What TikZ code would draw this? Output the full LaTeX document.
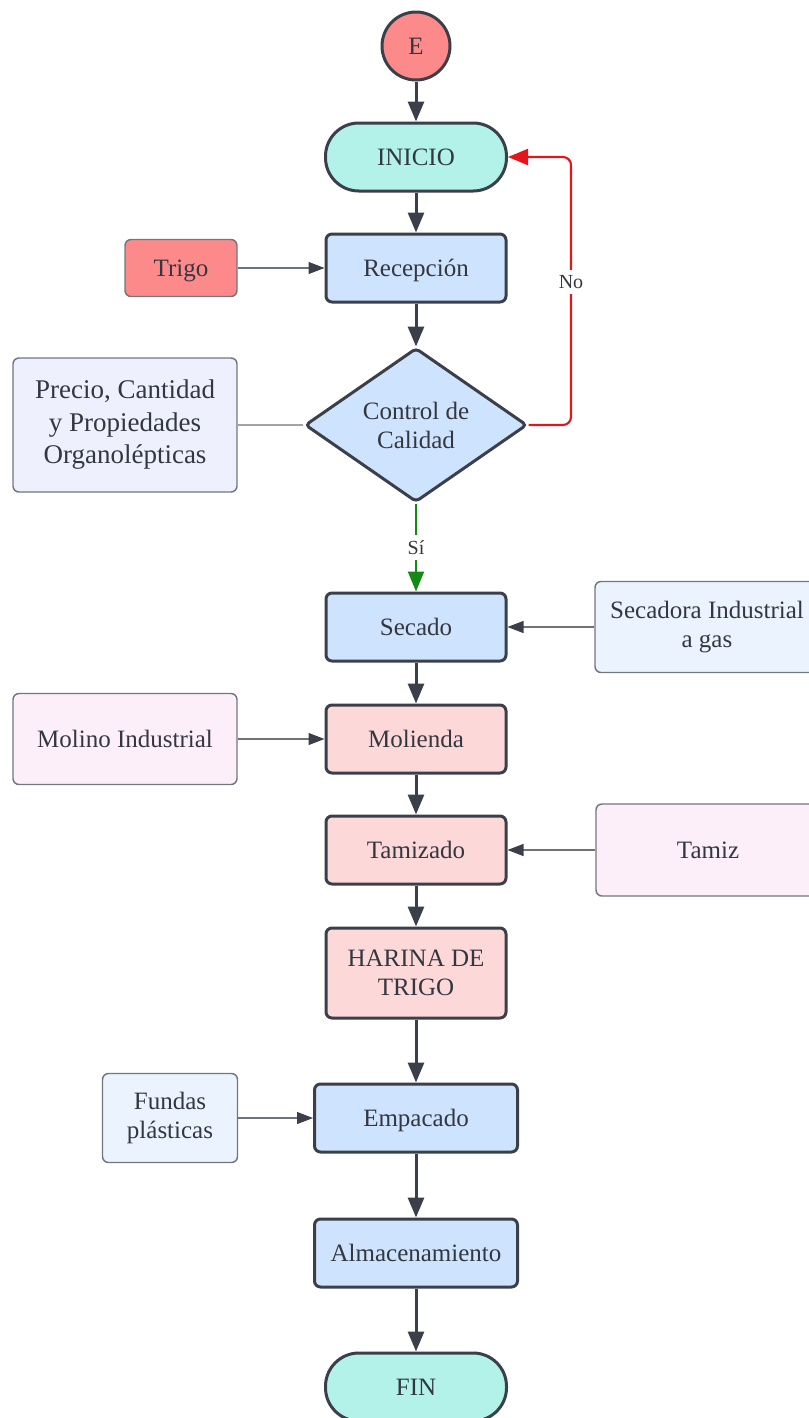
\documentclass[tikz,border=0pt]{standalone}
\usepackage{fontspec}
\setmainfont{Liberation Serif}
\usetikzlibrary{arrows.meta,shapes.geometric}

\definecolor{edge}{HTML}{3A3F4A}
\definecolor{txt}{HTML}{333740}
\definecolor{sidegray}{HTML}{72767E}
\definecolor{feedgray}{HTML}{6E727A}
\definecolor{linkgray}{HTML}{A0A3A8}
\definecolor{redfill}{HTML}{FC8A8A}
\definecolor{tealfill}{HTML}{B3F2E9}
\definecolor{bluefill}{HTML}{CEE3FD}
\definecolor{pinkfill}{HTML}{FDD8D9}
\definecolor{lavfill}{HTML}{EFF0FD}
\definecolor{ltblue}{HTML}{EBF3FE}
\definecolor{ltpink}{HTML}{FDEFF9}
\definecolor{nored}{HTML}{E3161B}
\definecolor{sigreen}{HTML}{148A14}

\begin{document}
\begin{tikzpicture}[x=0.75pt,y=-0.75pt,
  base/.style={text=txt, align=center, inner sep=0pt,
    font=\fontsize{18.75pt}{21.75pt}\selectfont},
  oneline/.style={text height=15.6pt, text depth=3.2pt},
  proc/.style={base, draw=edge, line width=2.25pt, rounded corners=4.5pt,
    minimum width=135pt, minimum height=51pt},
  term/.style={proc, oneline, fill=tealfill, rounded corners=25pt, minimum width=135.75pt},
  side/.style={base, draw=sidegray, line width=1.1pt, rounded corners=4.5pt},
  flow/.style={draw=edge, line width=2.25pt, -{Triangle[length=15pt,width=12pt]}},
  feed/.style={draw=feedgray, line width=0.8pt, -{Triangle[length=12pt,width=9pt,color=edge]}},
  link/.style={draw=linkgray, line width=0.8pt},
  noflow/.style={draw=nored, line width=1.6pt, rounded corners=6pt,
    -{Triangle[length=15pt,width=12pt]}},
  siflow/.style={draw=sigreen, line width=1.6pt, -{Triangle[length=15pt,width=12pt]}},
  lbl/.style={fill=white, text=txt, inner xsep=2pt, inner ysep=4pt,
    font=\fontsize{15pt}{17pt}\selectfont}]

\useasboundingbox (0,0) rectangle (809,1418);
\clip (0,0) rectangle (809,1418);

% main column
\node[base, oneline, circle, draw=edge, line width=2.25pt, fill=redfill, minimum size=51pt] (e) at (416,46) {E};
\node[term] (inicio) at (416,157) {INICIO};
\node[proc, oneline, fill=bluefill] (recep) at (416,268) {Recepción};
\node[base, diamond, aspect=1.44, draw=edge, line width=2.25pt, rounded corners=3pt,
  fill=bluefill, minimum width=166.5pt, minimum height=115.5pt] (cq) at (416,425) {Control de\\Calidad};
\node[proc, oneline, fill=bluefill] (secado) at (416,627) {Secado};
\node[proc, oneline, fill=pinkfill] (molienda) at (416,739) {Molienda};
\node[proc, oneline, fill=pinkfill] (tamizado) at (416,850) {Tamizado};
\node[proc, fill=pinkfill, minimum height=67.5pt] (harina) at (416,973) {HARINA DE\\TRIGO};
\node[proc, oneline, fill=bluefill, minimum width=152.25pt] (empacado) at (416,1118) {Empacado};
\node[proc, oneline, fill=bluefill, minimum width=152.25pt] (almac) at (416,1253) {Almacenamiento};
\node[term] (fin) at (416,1387) {FIN};

% inputs and resources
\node[side, oneline, fill=redfill, minimum width=84pt, minimum height=42.75pt] (trigo) at (181,268) {Trigo};
\node[side, fill=lavfill, minimum width=168pt, minimum height=100.5pt,
  font=\fontsize{20.25pt}{24.4pt}\selectfont] (precio) at (125,425) {Precio, Cantidad\\y Propiedades\\Organolépticas};
\node[side, fill=ltblue, minimum width=168pt, minimum height=68.25pt] (secadora) at (707,627) {Secadora Industrial\\a gas};
\node[side, oneline, fill=ltpink, minimum width=168pt, minimum height=68.25pt] (molino) at (125,739) {Molino Industrial};
\node[side, oneline, fill=ltpink, minimum width=168pt, minimum height=69pt] (tamiz) at (708,850) {Tamiz};
\node[side, fill=ltblue, minimum width=101.25pt, minimum height=66.75pt] (fundas) at (170,1118) {Fundas\\plásticas};

% main flow
\draw[flow] (e) -- (inicio);
\draw[flow] (inicio) -- (recep);
\draw[flow] (recep) -- (cq);
\draw[siflow] (cq.south) -- node[lbl] (silbl) {Sí} (secado.north);
\draw[flow] (secado) -- (molienda);
\draw[flow] (molienda) -- (tamizado);
\draw[flow] (tamizado) -- (harina);
\draw[flow] (harina) -- (empacado);
\draw[flow] (empacado) -- (almac);
\draw[flow] (almac) -- (fin);

% rejection loop
\coordinate (nr) at (571,157);
\draw[noflow] (cq.east) -| (nr) -- (inicio.east);
\node[lbl] (nolbl) at (571,282) {No};

% side connections
\draw[feed] (trigo) -- (recep);
\draw[link] (precio) -- (cq);
\draw[feed] (secadora) -- (secado);
\draw[feed] (molino) -- (molienda);
\draw[feed] (tamiz) -- (tamizado);
\draw[feed] (fundas) -- (empacado);
\end{tikzpicture}
\end{document}
